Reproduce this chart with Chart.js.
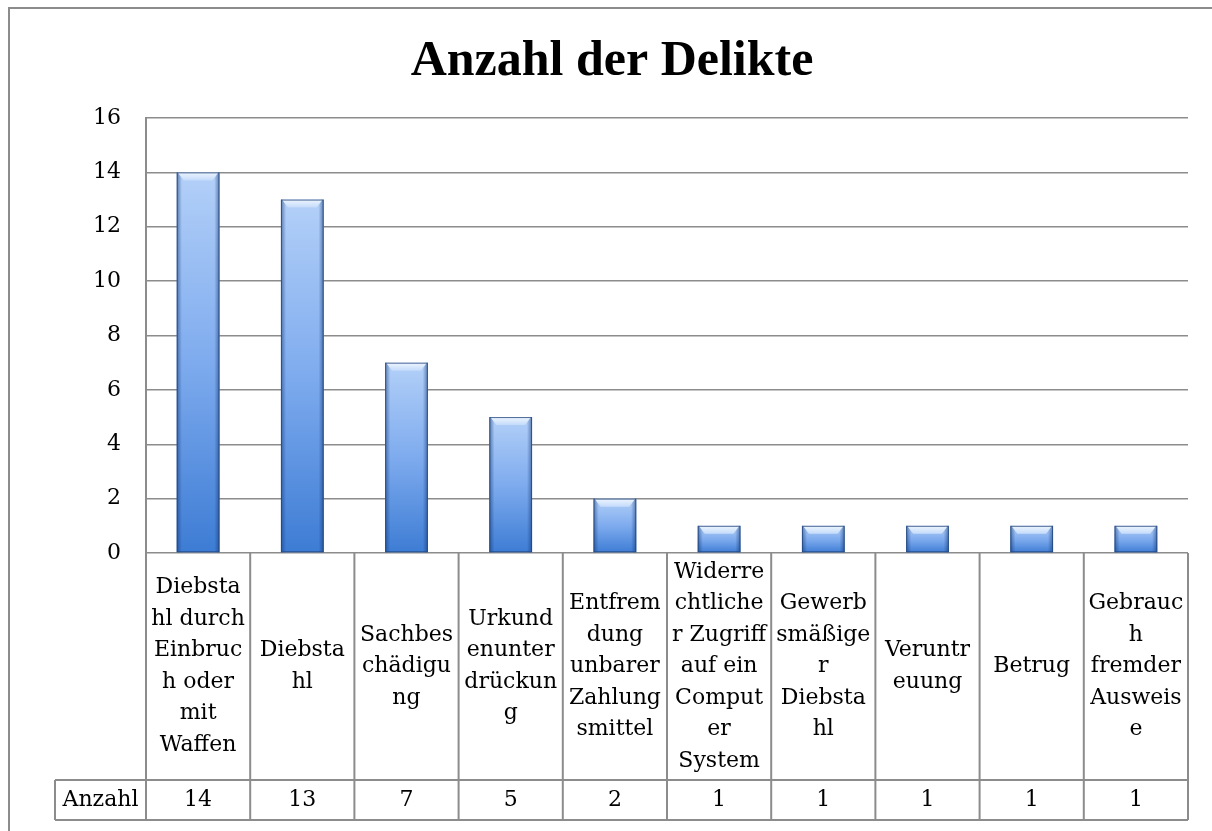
<!DOCTYPE html>
<html>
<head>
<meta charset="utf-8">
<script src="https://cdn.jsdelivr.net/npm/chart.js@4/dist/chart.umd.min.js"></script>
<style>
  body { margin: 0; background: #ffffff; }
  #wrap { width: 1212px; height: 831px; }
</style>
</head>
<body>
<div id="wrap"><canvas id="chart" width="1212" height="831"></canvas></div>
<script>
// Chart data
const chartTitle = 'Anzahl der Delikte';
const seriesName = 'Anzahl';
const categories = [
    ['Diebsta', 'hl durch', 'Einbruc', 'h oder', 'mit', 'Waffen'],
    ['Diebsta', 'hl'],
    ['Sachbes', 'chädigu', 'ng'],
    ['Urkund', 'enunter', 'drückun', 'g'],
    ['Entfrem', 'dung', 'unbarer', 'Zahlung', 'smittel'],
    ['Widerre', 'chtliche', 'r Zugriff', 'auf ein', 'Comput', 'er', 'System'],
    ['Gewerb', 'smäßige', 'r', 'Diebsta', 'hl'],
    ['Veruntr', 'euung'],
    ['Betrug'],
    ['Gebrauc', 'h', 'fremder', 'Ausweis', 'e']
];
const values = [14, 13, 7, 5, 2, 1, 1, 1, 1, 1];
const yTicks = [0, 2, 4, 6, 8, 10, 12, 14, 16];

const lineGray = '#8c8c8c';
const labelFont = '22px "DejaVu Serif"';

// per-bar vertical gradient, light on top, darker at the base
function barGradient(context) {
    const chart = context.chart;
    const yScale = chart.scales.y;
    if (!chart.chartArea || !yScale) return '#6a9ee6';
    const top = yScale.getPixelForValue(values[context.dataIndex]);
    const bottom = yScale.getPixelForValue(0);
    const g = chart.ctx.createLinearGradient(0, top, 0, bottom);
    g.addColorStop(0, '#b3d0f8');
    g.addColorStop(0.5, '#7eabee');
    g.addColorStop(1, '#3d7cd4');
    return g;
}

// bevel look: dark sides and a light lip on top of each bar
const bevelPlugin = {
    id: 'bevel',
    afterDatasetsDraw(chart) {
        const ctx = chart.ctx;
        chart.getDatasetMeta(0).data.forEach(bar => {
            const left = bar.x - bar.width / 2;
            const right = bar.x + bar.width / 2;
            const top = bar.y;
            const bottom = bar.base;
            ctx.save();
            const side = ctx.createLinearGradient(left, 0, right, 0);
            side.addColorStop(0, 'rgba(20,55,115,0.55)');
            side.addColorStop(0.12, 'rgba(20,55,115,0)');
            side.addColorStop(0.88, 'rgba(20,55,115,0)');
            side.addColorStop(1, 'rgba(20,55,115,0.55)');
            ctx.fillStyle = side;
            ctx.fillRect(left, top, right - left, bottom - top);

            const lip = 8;
            const lipGrad = ctx.createLinearGradient(0, top, 0, top + lip);
            lipGrad.addColorStop(0, '#eef5fe');
            lipGrad.addColorStop(1, '#c4dbfa');
            ctx.fillStyle = lipGrad;
            ctx.beginPath();
            ctx.moveTo(left + 1, top);
            ctx.lineTo(right - 1, top);
            ctx.lineTo(right - 7, top + lip);
            ctx.lineTo(left + 7, top + lip);
            ctx.closePath();
            ctx.fill();

            ctx.strokeStyle = 'rgba(35,70,125,0.8)';
            ctx.lineWidth = 1;
            ctx.strokeRect(left + 0.5, top + 0.5, right - left - 1, bottom - top - 1);
            ctx.restore();
        });
    }
};

// title, outer frame and the data table under the axis
const tablePlugin = {
    id: 'dataTable',
    afterDraw(chart) {
        const ctx = chart.ctx;
        const xScale = chart.scales.x;
        const area = chart.chartArea;
        const colW = (area.right - area.left) / categories.length;
        const labelTop = area.bottom;
        const rowTop = 780;
        const rowBottom = 820;
        const headLeft = 55;

        ctx.save();
        // outer frame
        ctx.strokeStyle = lineGray;
        ctx.lineWidth = 2;
        ctx.beginPath();
        ctx.moveTo(9, chart.height + 5);
        ctx.lineTo(9, 8);
        ctx.lineTo(chart.width + 5, 8);
        ctx.stroke();

        // title
        ctx.fillStyle = '#000';
        ctx.font = 'bold 50px "Liberation Serif"';
        ctx.textAlign = 'center';
        ctx.textBaseline = 'alphabetic';
        ctx.fillText(chartTitle, 612, 75);

        // table grid
        ctx.strokeStyle = lineGray;
        ctx.lineWidth = 2;
        ctx.beginPath();
        for (let i = 0; i <= categories.length; i++) {
            const x = area.left + i * colW;
            ctx.moveTo(x, labelTop);
            ctx.lineTo(x, rowBottom);
        }
        ctx.moveTo(headLeft, rowTop);
        ctx.lineTo(area.right, rowTop);
        ctx.moveTo(headLeft, rowBottom);
        ctx.lineTo(area.right, rowBottom);
        ctx.moveTo(headLeft, rowTop);
        ctx.lineTo(headLeft, rowBottom);
        ctx.stroke();

        // category labels, centred in their cells
        ctx.font = labelFont;
        ctx.fillStyle = '#000';
        ctx.textAlign = 'center';
        ctx.textBaseline = 'middle';
        const lineH = 31.5;
        const midY = (labelTop + rowTop) / 2;
        categories.forEach((lines, i) => {
            const cx = xScale.getPixelForValue(i);
            const startY = midY - (lines.length - 1) * lineH / 2;
            lines.forEach((t, j) => ctx.fillText(t, cx, startY + j * lineH));
            ctx.fillText(String(values[i]), cx, (rowTop + rowBottom) / 2);
        });
        ctx.fillText(seriesName, (headLeft + area.left) / 2, (rowTop + rowBottom) / 2);
        ctx.restore();
    }
};

const ctx = document.getElementById('chart').getContext('2d');

new Chart(ctx, {
    type: 'bar',
    data: {
        labels: categories.map(c => c.join('')),
        datasets: [{
            label: seriesName,
            data: values,
            backgroundColor: barGradient,
            borderWidth: 0,
            barPercentage: 0.41,
            categoryPercentage: 1
        }]
    },
    options: {
        responsive: false,
        animation: false,
        layout: { padding: { left: 0, right: 24, top: 118, bottom: 0 } },
        plugins: {
            legend: { display: false },
            title: { display: false },
            tooltip: { enabled: false }
        },
        scales: {
            x: {
                grid: { display: false },
                border: { display: false },
                ticks: { display: false },
                afterFit(scale) { scale.height = 278; }
            },
            y: {
                min: 0,
                max: 16,
                afterBuildTicks(scale) { scale.ticks = yTicks.map(v => ({ value: v })); },
                grid: { color: lineGray, lineWidth: 1.5, drawTicks: false },
                border: { color: lineGray, width: 2 },
                ticks: {
                    color: '#000',
                    padding: 25,
                    font: { family: 'DejaVu Serif', size: 22 }
                },
                afterFit(scale) { scale.width = 146; }
            }
        }
    },
    plugins: [bevelPlugin, tablePlugin]
});
</script>
</body>
</html>
